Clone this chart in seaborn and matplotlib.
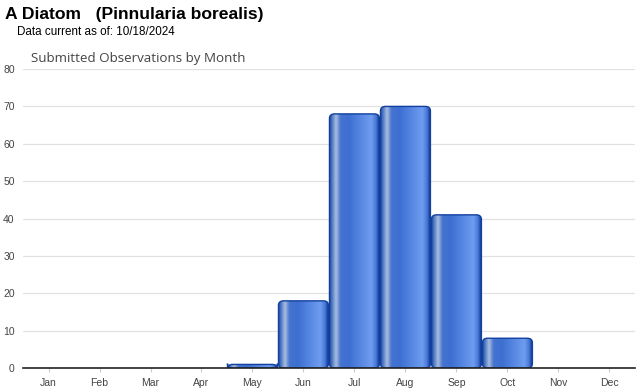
import numpy as np
import pandas as pd
import seaborn as sns
import matplotlib.pyplot as plt
from matplotlib.colors import LinearSegmentedColormap
from matplotlib.patches import FancyBboxPatch

months = ['Jan', 'Feb', 'Mar', 'Apr', 'May', 'Jun', 'Jul', 'Aug', 'Sep', 'Oct', 'Nov', 'Dec']
counts = [0, 0, 0, 0, 1, 18, 68, 70, 41, 8, 0, 0]
y_ticks = [0, 10, 20, 30, 40, 50, 60, 70, 80]

df = pd.DataFrame({'month': months, 'count': counts})

sns.set_style('white')
plt.rcParams['font.family'] = ['Liberation Sans', 'DejaVu Sans']

fig = plt.figure(figsize=(6.4, 3.9), dpi=100)
ax = fig.add_axes([0.036, 0.056, 0.956, 0.767])

sns.barplot(data=df, x='month', y='count', width=1.0, color='#3a6fd0',
            saturation=1, ax=ax)

#horizontal gradient for the glossy bar look
grad = LinearSegmentedColormap.from_list('bar', [
    (0.00, '#17419c'), (0.06, '#4f79c2'), (0.14, '#a9bde0'),
    (0.23, '#4674cf'), (0.40, '#3d6fd2'), (0.85, '#6e9df0'),
    (0.94, '#4a7ad8'), (1.00, '#17419c')])
g = np.linspace(0, 1, 256).reshape(1, -1)

for p in list(ax.patches):
    x0, y0 = p.get_x(), p.get_y()
    w, h = p.get_width(), p.get_height()
    p.set_visible(False)
    if h <= 0:
        continue
    rad = min(0.1, h * 0.5)
    shape = FancyBboxPatch((x0 + 0.01, y0), w - 0.02, h,
                           boxstyle=f'round,pad=0,rounding_size={rad}',
                           mutation_aspect=12, facecolor='none',
                           edgecolor='#1240a0', linewidth=1.0, zorder=3)
    ax.add_patch(shape)
    im = ax.imshow(g, cmap=grad, extent=(x0 + 0.01, x0 + w - 0.01, y0, y0 + h),
                   aspect='auto', zorder=2, interpolation='bilinear')
    im.set_clip_path(shape)

ax.set_xlim(-0.5, 11.5)
ax.set_ylim(0, 80)
ax.set_yticks(y_ticks)
ax.set_xlabel('')
ax.set_ylabel('')
ax.grid(axis='y', color='#e2e2e2', linewidth=0.9, zorder=0)
ax.set_axisbelow(True)
for s in ['top', 'right', 'left']:
    ax.spines[s].set_visible(False)
ax.spines['bottom'].set_color('#222222')
ax.spines['bottom'].set_linewidth(1.2)
ax.spines['bottom'].set_zorder(4)
ax.tick_params(axis='y', length=0, labelsize=7.5, labelcolor='#444444', pad=6)
ax.tick_params(axis='x', length=3, color='#cccccc', labelsize=7.5,
               labelcolor='#444444', pad=4, bottom=True)

fig.text(0.008, 0.962, 'A Diatom   (Pinnularia borealis)', fontsize=12.6,
         fontweight='bold', va='center', ha='left', color='black')
fig.text(0.027, 0.918, 'Data current as of: 10/18/2024', fontsize=8.4,
         va='center', ha='left', color='black')
fig.text(0.048, 0.851, 'Submitted Observations by Month', fontsize=9.6,
         va='center', ha='left', color='#444444',
         family=['Open Sans', 'DejaVu Sans'])

fig.savefig('out.png', dpi=100)
